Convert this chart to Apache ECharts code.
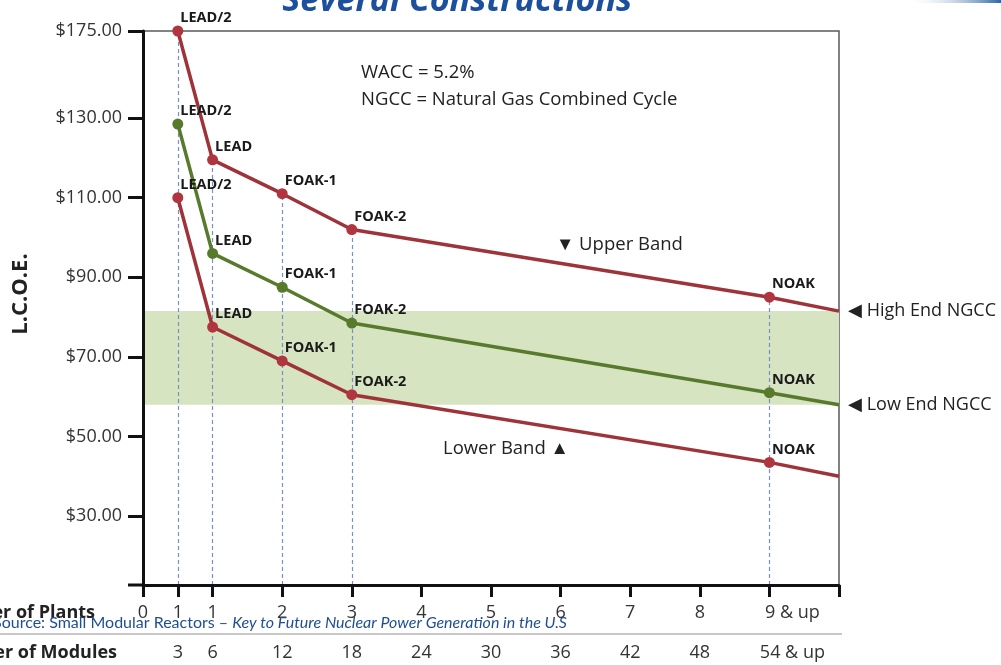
<!DOCTYPE html>
<html>
<head>
<meta charset="utf-8">
<script src="https://cdn.jsdelivr.net/npm/echarts@6/dist/echarts.min.js"></script>
<style>
  html, body { margin: 0; padding: 0; background: #fff; }
  #chart { width: 1001px; height: 665px; }
</style>
</head>
<body>
<div id="chart"></div>
<script>
// Build stages, placed by cumulative number of modules
const stageModules = [3, 6, 12, 18, 54, 60];
const stageNames = ['LEAD/2', 'LEAD', 'FOAK-1', 'FOAK-2', 'NOAK', ''];

// Levelized cost of electricity ($/MWh) for each stage
const upperBand = [175, 119.5, 111, 102, 85, 81.5];
const midCase   = [128.5, 96, 87.5, 78.5, 61, 58];
const lowerBand = [110, 77.5, 69, 60.5, 43.5, 40];

// Natural gas combined cycle cost range
const ngccHigh = 81.5;
const ngccLow = 58;

// Axis ticks and labels
const yTickValues = [30, 50, 70, 90, 110, 130, 175];
const xTickModules = [0, 3, 6, 12, 18, 24, 30, 36, 42, 48, 54];
const plantLabels  = ['0', '1', '1', '2', '3', '4', '5', '6', '7', '8', '9 & up'];
const moduleLabels = ['', '3', '6', '12', '18', '24', '30', '36', '42', '48', '54 & up'];
const xAxisEnd = 60;

// The cost axis is broken above $130: the top segment is compressed.
const BREAK = 130;
const SQUEEZE = 0.486;
const toAxis = v => (v <= BREAK ? v : BREAK + (v - BREAK) * SQUEEZE);
const fromAxis = p => (p <= BREAK + 1e-6 ? p : BREAK + (p - BREAK) / SQUEEZE);
const yMin = 12.7;
const yMax = toAxis(175);

const FONT = 'Open Sans';
const RED = '#9e3339';
const RED_DOT = '#b0353f';
const GREEN = '#587a2c';

function costLine(name, values, lineColor, dotColor) {
  return {
    name,
    type: 'line',
    z: 5,
    symbolSize: 11,
    showAllSymbol: true,
    lineStyle: { color: lineColor, width: 3.5 },
    itemStyle: { color: dotColor },
    label: {
      show: true,
      position: 'right',
      distance: 0,
      offset: [-3, -13],
      fontFamily: FONT,
      fontWeight: 'bold',
      fontSize: 14.5,
      color: '#1a1a1a',
      formatter: p => stageNames[p.dataIndex]
    },
    emphasis: { disabled: true },
    data: values.map((v, i) => ({
      value: [stageModules[i], toAxis(v)],
      symbol: stageNames[i] ? 'circle' : 'none',
      label: { show: !!stageNames[i] }
    }))
  };
}

// Dashed drop lines from the highest point of each stage to the axis
const dropLines = stageModules
  .map((m, i) => ({ m, i }))
  .filter(d => stageNames[d.i])
  .map(({ m, i }) => [
    { coord: [m, yMin] },
    { coord: [m, toAxis(Math.max(upperBand[i], midCase[i], lowerBand[i]))] }
  ]);

const chart = echarts.init(document.getElementById('chart'), null, { renderer: 'canvas' });

chart.setOption({
  animation: false,
  backgroundColor: '#fff',
  textStyle: { fontFamily: FONT },
  grid: {
    left: 143, top: 31, right: 162, bottom: 80,
    show: true, borderColor: '#5a5a5a', borderWidth: 1.5, backgroundColor: 'transparent'
  },
  xAxis: {
    type: 'value',
    min: 0,
    max: xAxisEnd,
    z: 10,
    axisLine: { show: true, onZero: false, lineStyle: { color: '#111', width: 3 } },
    axisTick: {
      show: true,
      customValues: xTickModules.concat([xAxisEnd]),
      length: 12,
      lineStyle: { color: '#111', width: 3 }
    },
    splitLine: { show: false },
    axisLabel: {
      customValues: xTickModules,
      margin: 8,
      formatter: v => {
        const i = xTickModules.indexOf(v);
        if (i < 0) return '';
        const last = i === xTickModules.length - 1;
        const p = last ? 'pl' : 'p';
        const m = last ? 'ml' : 'm';
        return '{' + p + '|' + plantLabels[i] + '}\n{' + m + '|' + (moduleLabels[i] || ' ') + '}';
      },
      rich: {
        p:  { fontFamily: FONT, fontSize: 18, lineHeight: 40, color: '#333' },
        m:  { fontFamily: FONT, fontSize: 18, lineHeight: 40, color: '#333' },
        pl: { fontFamily: FONT, fontSize: 18, lineHeight: 40, color: '#333', padding: [0, 0, 0, 46] },
        ml: { fontFamily: FONT, fontSize: 18, lineHeight: 40, color: '#333', padding: [0, 0, 0, 46] }
      }
    }
  },
  yAxis: {
    type: 'value',
    min: yMin,
    max: yMax,
    z: 10,
    axisLine: { show: true, onZero: false, lineStyle: { color: '#111', width: 3 } },
    axisTick: {
      show: true,
      customValues: yTickValues.map(toAxis),
      length: 15,
      lineStyle: { color: '#111', width: 3 }
    },
    splitLine: { show: false },
    axisLabel: {
      customValues: yTickValues.map(toAxis),
      margin: 21,
      fontFamily: FONT,
      fontSize: 18,
      color: '#333',
      formatter: v => '$' + Math.round(fromAxis(v)).toFixed(2)
    }
  },
  series: [
    {
      name: 'NGCC range',
      type: 'line',
      z: 1,
      data: [],
      markArea: {
        silent: true,
        itemStyle: { color: '#d6e4c1' },
        data: [[{ yAxis: toAxis(ngccLow) }, { yAxis: toAxis(ngccHigh) }]]
      },
      markLine: {
        silent: true,
        symbol: ['none', 'none'],
        lineStyle: { color: 'rgba(0,0,0,0)', width: 1, type: 'solid' },
        label: {
          show: true,
          position: 'end',
          distance: 9,
          fontFamily: FONT,
          fontSize: 18,
          color: '#222',
          formatter: p => '◀ ' + p.name
        },
        data: [
          { name: 'High End NGCC', yAxis: toAxis(ngccHigh) },
          { name: 'Low End NGCC', yAxis: toAxis(ngccLow) }
        ]
      }
    },
    {
      name: 'Stages',
      type: 'line',
      z: 2,
      data: [],
      markLine: {
        silent: true,
        symbol: ['none', 'none'],
        label: { show: false },
        lineStyle: { color: '#7890c4', type: [4, 3], width: 1.2 },
        data: dropLines
      }
    },
    costLine('Upper Band', upperBand, RED, RED_DOT),
    costLine('Mid Case', midCase, GREEN, GREEN),
    costLine('Lower Band', lowerBand, RED, RED_DOT)
  ],
  graphic: [
    {
      type: 'rect', silent: true, z: 0,
      shape: { x: 905, y: 0, width: 96, height: 3 },
      style: {
        fill: new echarts.graphic.LinearGradient(0, 0, 1, 0, [
          { offset: 0, color: 'rgba(255,255,255,0)' },
          { offset: 1, color: '#2f66a6' }
        ])
      }
    },
    {
      type: 'text', z: 20,
      style: {
        x: 632, y: 18, text: 'Several Constructions',
        align: 'right', verticalAlign: 'bottom',
        font: 'italic bold 34px "' + FONT + '"', fill: '#1c4f9c'
      }
    },
    {
      type: 'text', z: 20,
      style: {
        x: 361, y: 59, text: 'WACC = 5.2%\nNGCC = Natural Gas Combined Cycle',
        lineHeight: 27, font: '18.5px "' + FONT + '"', fill: '#222'
      }
    },
    {
      type: 'text', z: 20,
      style: {
        x: 556, y: 245, text: '▼ Upper Band', verticalAlign: 'middle',
        font: '18.5px "' + FONT + '"', fill: '#222'
      }
    },
    {
      type: 'text', z: 20,
      style: {
        x: 443, y: 449, text: 'Lower Band ▲', verticalAlign: 'middle',
        font: '18.5px "' + FONT + '"', fill: '#222'
      }
    },
    {
      type: 'text', z: 20, rotation: Math.PI / 2, x: 21, y: 294,
      style: {
        x: 0, y: 0, text: 'L.C.O.E.', align: 'center', verticalAlign: 'middle',
        font: 'bold 22px "' + FONT + '"', fill: '#222'
      }
    },
    {
      type: 'line', z: 20, silent: true,
      shape: { x1: 128, y1: 585, x2: 143, y2: 585 },
      style: { stroke: '#111', lineWidth: 3 }
    },
    {
      type: 'text', z: 20,
      style: {
        x: 95, y: 613, text: 'Number of Plants', align: 'right', verticalAlign: 'middle',
        font: 'bold 18px "' + FONT + '"', fill: '#222'
      }
    },
    {
      type: 'text', z: 20,
      style: {
        x: 117, y: 653, text: 'Number of Modules', align: 'right', verticalAlign: 'middle',
        font: 'bold 18px "' + FONT + '"', fill: '#222'
      }
    },
    {
      type: 'line', z: 19, silent: true,
      shape: { x1: 0, y1: 634, x2: 842, y2: 634 },
      style: { stroke: '#c8c8c8', lineWidth: 2 }
    },
    {
      type: 'text', z: 21,
      style: {
        x: 567, y: 623, align: 'right', verticalAlign: 'middle',
        text: '{n|Source: Small Modular Reactors – }{i|Key to Future Nuclear Power Generation in the U.S}',
        rich: {
          n: { fontFamily: 'Lato', fontSize: 16, fill: '#1f4e96' },
          i: { fontFamily: 'Lato', fontSize: 16, fontStyle: 'italic', fill: '#1f4e96' }
        }
      }
    }
  ]
});
</script>
</body>
</html>
